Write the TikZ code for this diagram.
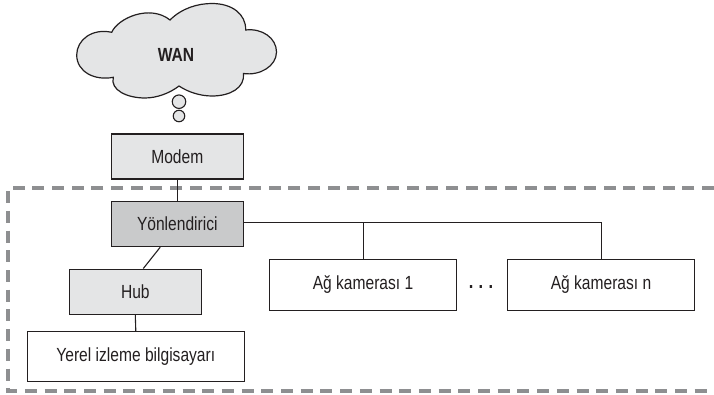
\documentclass[tikz,border=0pt]{standalone}
\usepackage{fontspec}
\setmainfont[FakeStretch=0.82]{Liberation Sans}
\definecolor{inkc}{HTML}{231F20}
\definecolor{lightg}{HTML}{E4E5E6}
\definecolor{darkg}{HTML}{C9CACB}
\definecolor{dashg}{HTML}{8E8F91}
\tikzset{
  box/.style={draw=inkc,line width=1.1pt,rectangle,inner sep=0pt,text=inkc,font=\fontsize{19}{22}\selectfont,anchor=north west},
  wire/.style={draw=inkc,line width=1.1pt},
  frameline/.style={draw=dashg,line width=3.4pt,dash pattern=on 12pt off 7.7pt},
  cloudline/.style={draw=inkc,line width=1.2pt,fill=lightg},
}
\begin{document}
\begin{tikzpicture}[x=1pt,y=-1pt]
\useasboundingbox (0,0) rectangle (714,395);
\draw[frameline] (714,188) -- (8,188) -- (8,391) -- (714,391);
% cloud
\draw[cloudline] (111.7,32.3)
  .. controls (118,18) and (150,4) .. (170,20)
  .. controls (182,8) and (198,3.5) .. (212,3.5)
  .. controls (232,3.5) and (246,14) .. (245.7,30)
  .. controls (262,28) and (276.5,38) .. (276.5,52)
  .. controls (276.5,66) and (260,76) .. (243.5,73.5)
  .. controls (245,88) and (230,96) .. (212,96)
  .. controls (200,96) and (188,92) .. (179,86)
  .. controls (170,93) and (157,98) .. (145,98)
  .. controls (127,98) and (110,90) .. (113.3,77.3)
  .. controls (95,81) and (76.7,72) .. (76.7,55)
  .. controls (76.7,40) and (92,28) .. (111.7,32.3) -- cycle;
\node[font=\fontsize{19}{22}\selectfont\bfseries,text=inkc,inner sep=0pt] (wan) at (176,55) {WAN};
\node[circle,draw=inkc,line width=1.1pt,fill=lightg,minimum size=13.5pt,inner sep=0pt] (bub1) at (179,101.7) {};
\node[circle,draw=inkc,line width=1.1pt,fill=lightg,minimum size=11.5pt,inner sep=0pt] (bub2) at (179,116) {};
% boxes
\node[box,fill=lightg,minimum width=132.5pt,minimum height=45pt] (modem) at (110.5,133.5) {Modem};
\node[box,fill=darkg,minimum width=132.5pt,minimum height=45pt] (yon) at (110.5,201) {Yönlendirici};
\node[box,fill=lightg,minimum width=131.5pt,minimum height=45.5pt] (hub) at (69,268.5) {Hub};
\node[box,fill=white,minimum width=217.5pt,minimum height=50pt] (pc) at (26.5,331) {Yerel izleme bilgisayarı};
\node[box,fill=white,minimum width=187pt,minimum height=50.5pt] (cam1) at (269,259) {Ağ kamerası 1};
\node[box,fill=white,minimum width=187pt,minimum height=50.5pt] (camn) at (507,259) {Ağ kamerası n};
\node[font=\fontsize{20}{22}\selectfont\bfseries,text=inkc,inner sep=0pt,anchor=base] (dots) at (481,288.5) {.\kern5.4pt.\kern5.4pt.};
% connectors
\coordinate (tap) at ([yshift=1.5pt]yon.east);
\draw[wire] (modem.south) -- (yon.north);
\draw[wire] ([xshift=-17pt]yon.south) -- ([xshift=8pt]hub.north);
\draw[wire] (hub.south) -- (pc.north);
\draw[wire] (cam1.north) |- (tap);
\draw[wire] (camn.north) |- (cam1.north |- tap);
\end{tikzpicture}
\end{document}
